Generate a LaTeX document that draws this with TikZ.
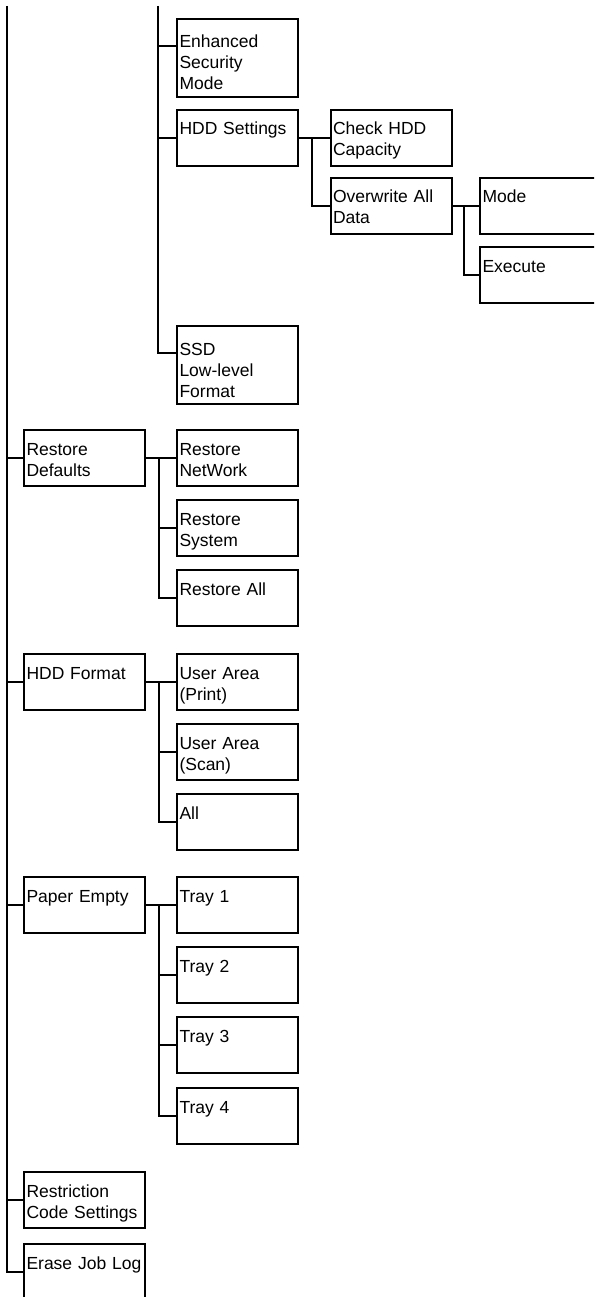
\documentclass[tikz,border=0pt]{standalone}
\usepackage{fontspec}
\setmainfont{Liberation Sans}
\usetikzlibrary{calc}

\begin{document}
\begin{tikzpicture}[
        x=1pt,y=1pt,
        menuitem/.style={
            draw=black,
            line width=2pt,
            anchor=north west,
            inner xsep=2.5pt,
            inner ysep=0pt,
            text width=116pt,
            align=left,
            font=\fontsize{17.5}{21}\selectfont,
            text height=25pt,
            text depth=31pt
        },
        tallitem/.style={menuitem,text height=29pt,text depth=49pt},
        link/.style={line width=2pt,black}
    ]
    \useasboundingbox (0,0) rectangle (594,-1297);
    \clip (0,0) rectangle (594,-1297);

    \node[tallitem] (ensec) at (176,-18) {Enhanced\\Security\\Mode};
    \node[menuitem] (hddset) at (176,-108.7) {HDD Settings};
    \node[menuitem] (chkhdd) at (329.5,-108.7) {Check HDD\\Capacity};
    \node[menuitem] (overwr) at (329.5,-177) {Overwrite All\\Data};
    \node[menuitem] (mode) at (479,-177) {Mode};
    \node[menuitem] (exec) at (479,-246) {Execute};
    \node[tallitem] (ssdfmt) at (176,-325) {SSD\\Low-level\\Format};

    \node[menuitem] (restdef) at (23,-429) {Restore\\Defaults};
    \node[menuitem] (restnet) at (176,-429) {Restore\\NetWork};
    \node[menuitem] (restsys) at (176,-499) {Restore\\System};
    \node[menuitem] (restall) at (176,-569) {Restore All};

    \node[menuitem] (hddfmt) at (23,-653) {HDD Format};
    \node[menuitem] (uaprint) at (176,-653) {User Area\\(Print)};
    \node[menuitem] (uascan) at (176,-723) {User Area\\(Scan)};
    \node[menuitem] (uaall) at (176,-793) {All};

    \node[menuitem] (papemp) at (23,-876) {Paper Empty};
    \node[menuitem] (tray1) at (176,-876) {Tray 1};
    \node[menuitem] (tray2) at (176,-946) {Tray 2};
    \node[menuitem] (tray3) at (176,-1016) {Tray 3};
    \node[menuitem] (tray4) at (176,-1087) {Tray 4};

    \node[menuitem] (restrict) at (23,-1171) {Restriction\\Code Settings};
    \node[menuitem] (erase) at (23,-1243) {Erase Job Log};

    \coordinate (mainbus) at (7,-6);
    \coordinate (subbus) at (158,-6);
    \coordinate (ensecin) at ($(ensec.north west)+(0,-28)$);
    \coordinate (ssdin) at ($(ssdfmt.north west)+(0,-28)$);

    \draw[link] (mainbus) |- (erase.west);
    \foreach \n in {restdef,hddfmt,papemp,restrict}
        \draw[link] (mainbus |- \n.west) -- (\n.west);
    \draw[link] (subbus) |- (ssdin);
    \draw[link] (subbus |- ensecin) -- (ensecin);
    \draw[link] (subbus |- hddset.west) -- (hddset.west);

    \foreach \p/\f/\l in {hddset/chkhdd/overwr,overwr/mode/exec,restdef/restnet/restall,hddfmt/uaprint/uaall,papemp/tray1/tray4} {
        \coordinate (\p-bus) at ($(\p.east)!0.44!(\f.west)$);
        \draw[link] (\p.east) -- (\f.west);
        \draw[link] (\p-bus) |- (\l.west);
    }
    \foreach \p/\m in {restdef/restsys,hddfmt/uascan,papemp/tray2,papemp/tray3}
        \draw[link] (\p-bus |- \m.west) -- (\m.west);
\end{tikzpicture}
\end{document}
